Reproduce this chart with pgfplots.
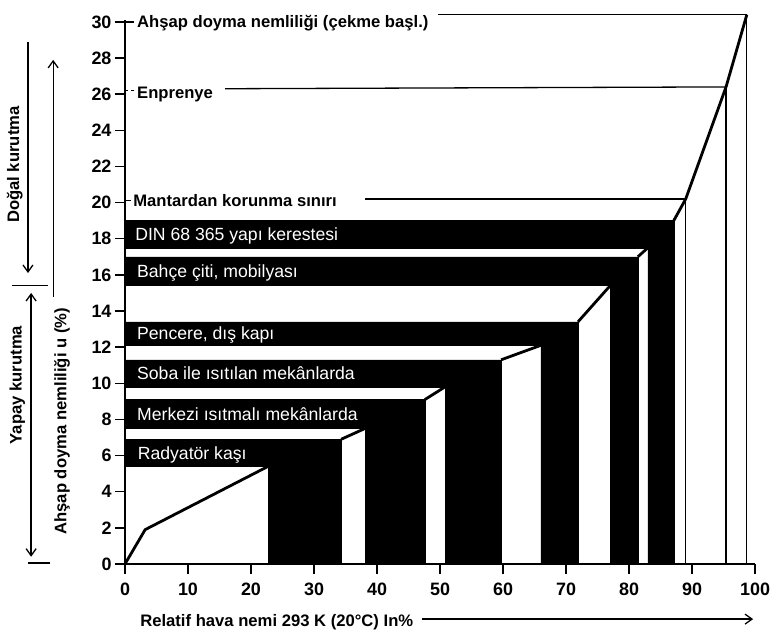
\documentclass[border=0pt]{standalone}
\usepackage{pgfplots}
\pgfplotsset{compat=1.18}
\usepackage{fontspec}
\setmainfont{Liberation Sans}
\usetikzlibrary{arrows.meta}

\newcommand{\barfont}{\fontsize{17.7}{18}\selectfont}
\newcommand{\notefont}{\bfseries\fontsize{16.7}{18}\selectfont}

\begin{document}
\begin{tikzpicture}
\begin{axis}[
    x=6.3bp, y=18.07bp,
    xmin=0, xmax=100, ymin=0, ymax=30.1,
    axis x line=bottom, axis y line=left,
    axis line style={line width=2bp, -},
    xtick={0,10,...,100}, ytick={0,2,...,30},
    tick align=outside, major tick length=10bp,
    tick style={line width=1.3bp, black},
    ticklabel style={font=\bfseries\fontsize{18}{18}\selectfont},
    xticklabel style={yshift=-5bp},
    /pgf/number format/assume math mode=true,
    clip=false,
  ]
  % black bands: bar from the axis plus a column down to 0
  \addplot[fill=black, draw=black, line width=0.5bp] coordinates {(0,5.4) (22.7,5.4) (22.7,0) (34.3,0) (34.3,6.9) (0,6.9)} --cycle;
  \addplot[fill=black, draw=black, line width=0.5bp] coordinates {(0,7.5) (38.1,7.5) (38.1,0) (47.6,0) (47.6,9.1) (0,9.1)} --cycle;
  \addplot[fill=black, draw=black, line width=0.5bp] coordinates {(0,9.8) (50.8,9.8) (50.8,0) (59.7,0) (59.7,11.3) (0,11.3)} --cycle;
  \addplot[fill=black, draw=black, line width=0.5bp] coordinates {(0,12.1) (66.0,12.1) (66.0,0) (71.9,0) (71.9,13.4) (0,13.4)} --cycle;
  \addplot[fill=black, draw=black, line width=0.5bp] coordinates {(0,15.4) (77.0,15.4) (77.0,0) (81.4,0) (81.4,17.0) (0,17.0)} --cycle;
  \addplot[fill=black, draw=black, line width=0.5bp] coordinates {(0,17.5) (83.0,17.5) (83.0,0) (87.1,0) (87.1,19.0) (0,19.0)} --cycle;

  % sorption curve, visible pieces
  \addplot[line width=2.8bp, black] coordinates {(0,0) (3.2,1.9) (22.7,5.4)};
  \addplot[line width=2.8bp, black] coordinates {(34.3,6.9) (38.1,7.5)};
  \addplot[line width=2.8bp, black] coordinates {(47.6,9.1) (50.8,9.8)};
  \addplot[line width=2.8bp, black] coordinates {(59.7,11.3) (66.0,12.1)};
  \addplot[line width=2.8bp, black] coordinates {(71.9,13.4) (77.0,15.4)};
  \addplot[line width=2.8bp, black] coordinates {(81.4,17.0) (83.0,17.5)};
  \addplot[line width=2.8bp, black] coordinates {(87.1,19.0) (89.0,20.2) (95.4,26.4) (98.7,30.4)};

  % vertical drops
  \addplot[line width=1.3bp, black] coordinates {(89.0,0) (89.0,20.2)};
  \addplot[line width=1.3bp, black] coordinates {(95.4,0) (95.4,26.4)};
  \addplot[line width=1.3bp, black] coordinates {(98.7,0) (98.7,30.4)};

  % reference levels
  \addplot[line width=1.3bp, black] coordinates {(49.7,30.4) (98.7,30.4)};
  \addplot[line width=1.3bp, black] coordinates {(15.9,26.3) (95.4,26.4)};
  \addplot[line width=1.3bp, black] coordinates {(38.1,20.2) (89.0,20.2)};
  \addplot[line width=1.3bp, black] coordinates {(0,30) (1.5,30)};
  \addplot[line width=1.0bp, black, dashed] coordinates {(0,26.2) (1.6,26.2)};
  \addplot[line width=1.3bp, black] coordinates {(0,20.1) (1.0,20.1)};

  \node[anchor=west, inner sep=0, font=\notefont, text height=12bp, text depth=0bp] at (axis cs:1.9,30.0) {Ahşap doyma nemliliği (çekme başl.)};
  \node[anchor=west, inner sep=0, font=\notefont, text height=12bp, text depth=0bp] at (axis cs:1.9,26.1) {Enprenye};
  \node[anchor=west, inner sep=0, font=\notefont, text height=12bp, text depth=0bp] at (axis cs:1.3,20.1) {Mantardan korunma sınırı};

  \begin{scope}[every node/.style={anchor=west, inner sep=0, text=white, font=\barfont, text height=12.6bp, text depth=0bp}]
    \node at (axis cs:1.6,18.25) {DIN 68 365 yapı kerestesi};
    \node at (axis cs:1.9,16.2) {Bahçe çiti, mobilyası};
    \node at (axis cs:1.9,12.75) {Pencere, dış kapı};
    \node at (axis cs:1.9,10.55) {Soba ile ısıtılan mekânlarda};
    \node at (axis cs:1.9,8.3) {Merkezi ısıtmalı mekânlarda};
    \node at (axis cs:2.0,6.15) {Radyatör kaşı};
  \end{scope}

  % x label and arrow
  \node[anchor=west, inner sep=0, font=\notefont, text height=12bp, text depth=0bp] at (axis cs:2.4,-3.1) {Relatif hava nemi 293 K (20°C) In\%};
  \draw[line width=1.3bp, -{Straight Barb[length=7bp,width=10bp]}] (axis cs:47.1,-3.05) -- (axis cs:99.7,-3.05);

  % left side: drying ranges
  \draw[line width=1.3bp, -{Straight Barb[length=7bp,width=10bp]}] (axis cs:-15.4,28.9) -- (axis cs:-15.4,16.1);
  \draw[line width=1.3bp] (axis cs:-17.9,15.4) -- (axis cs:-12.2,15.4);
  \draw[line width=1.3bp, -{Straight Barb[length=7bp,width=10bp]}] (axis cs:-11.4,14.8) -- (axis cs:-11.4,27.9);
  \draw[line width=1.3bp, {Straight Barb[length=7bp,width=10bp]}-{Straight Barb[length=7bp,width=10bp]}] (axis cs:-14.9,15.0) -- (axis cs:-14.9,0.4);
  \draw[line width=1.3bp] (axis cs:-15.4,0.05) -- (axis cs:-11.9,0.05);

  \node[rotate=90, inner sep=0, font=\notefont] at (axis cs:-17.5,22.1) {Doğal kurutma};
  \node[rotate=90, inner sep=0, font=\notefont] at (axis cs:-17.1,9.9) {Yapay kurutma};
  \node[rotate=90, inner sep=0, font=\notefont] at (axis cs:-10.0,7.9) {Ahşap doyma nemliliği u (\%)};

  \coordinate (bbl) at (axis cs:-19.84,-3.98);
  \coordinate (bbr) at (axis cs:103.33,31.21);
\end{axis}
\pgfresetboundingbox
\path[use as bounding box] (bbl) rectangle (bbr);
\end{tikzpicture}
\end{document}
